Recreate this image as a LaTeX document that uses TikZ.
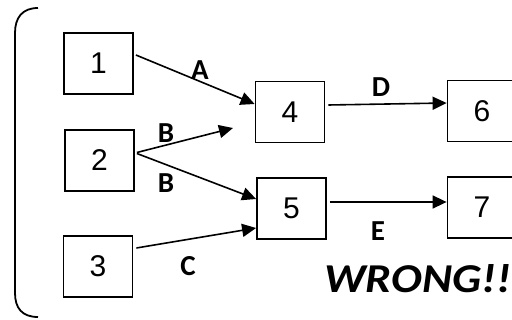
\documentclass[tikz,border=0pt]{standalone}
\usepackage{fontspec}
\setmainfont{Liberation Sans}
\newfontfamily\lblfont{Carlito}
\usetikzlibrary{arrows.meta}
\begin{document}
\begin{tikzpicture}[x=1pt,y=-1pt,
  numbox/.style={draw,line width=1.8pt,minimum width=69pt,minimum height=61pt,inner sep=0pt,font=\fontsize{30}{32}\selectfont},
  conn/.style={line width=1.6pt,-{Triangle[length=14pt,width=13pt]}},
  lbl/.style={font=\lblfont\bfseries\fontsize{29}{31}\selectfont,inner sep=0pt}]
\useasboundingbox (0,0) rectangle (512,320);
\draw[line width=1.8pt] (38,8) .. controls (22,8) and (15,18) .. (15,33) -- (15,293) .. controls (15,308) and (22,317) .. (38,317);
\node[numbox] (n1) at (98.5,63.5) {1};
\node[numbox] (n2) at (99.5,160.5) {2};
\node[numbox] (n3) at (98,266.5) {3};
\node[numbox] (n4) at (290,112) {4};
\node[numbox] (n5) at (291.5,208.5) {5};
\node[numbox] (n6) at (482,111) {6};
\node[numbox] (n7) at (482,207.5) {7};
\coordinate (bB) at (233,128);
\draw[conn] ([xshift=2pt,yshift=8.5pt]n1.east) -- ([yshift=8pt]n4.west);
\draw[conn] ([xshift=2pt,yshift=8pt]n2.east) -- (bB);
\draw[conn] ([xshift=2pt,yshift=7pt]n2.east) -- ([yshift=9.5pt]n5.west);
\draw[conn] ([xshift=3pt,yshift=18.5pt]n3.east) -- ([yshift=-19.5pt]n5.west);
\draw[conn] ([xshift=3pt,yshift=7pt]n4.east) -- ([yshift=8pt]n6.west);
\draw[conn] ([xshift=3pt,yshift=6.5pt]n5.east) -- ([yshift=5.5pt]n7.west);
\node[lbl] (lA) at (200,70) {A};
\node[lbl] (lB1) at (166,133) {B};
\node[lbl] (lB2) at (166,183) {B};
\node[lbl] (lC) at (188,266) {C};
\node[lbl] (lD) at (381,87) {D};
\node[lbl] (lE) at (378,231) {E};
\node[font=\lblfont\bfseries\itshape\fontsize{41}{43}\selectfont,inner sep=0pt,anchor=base west,xscale=1.12] (w) at (324,293) {WRONG!!};
\end{tikzpicture}
\end{document}
